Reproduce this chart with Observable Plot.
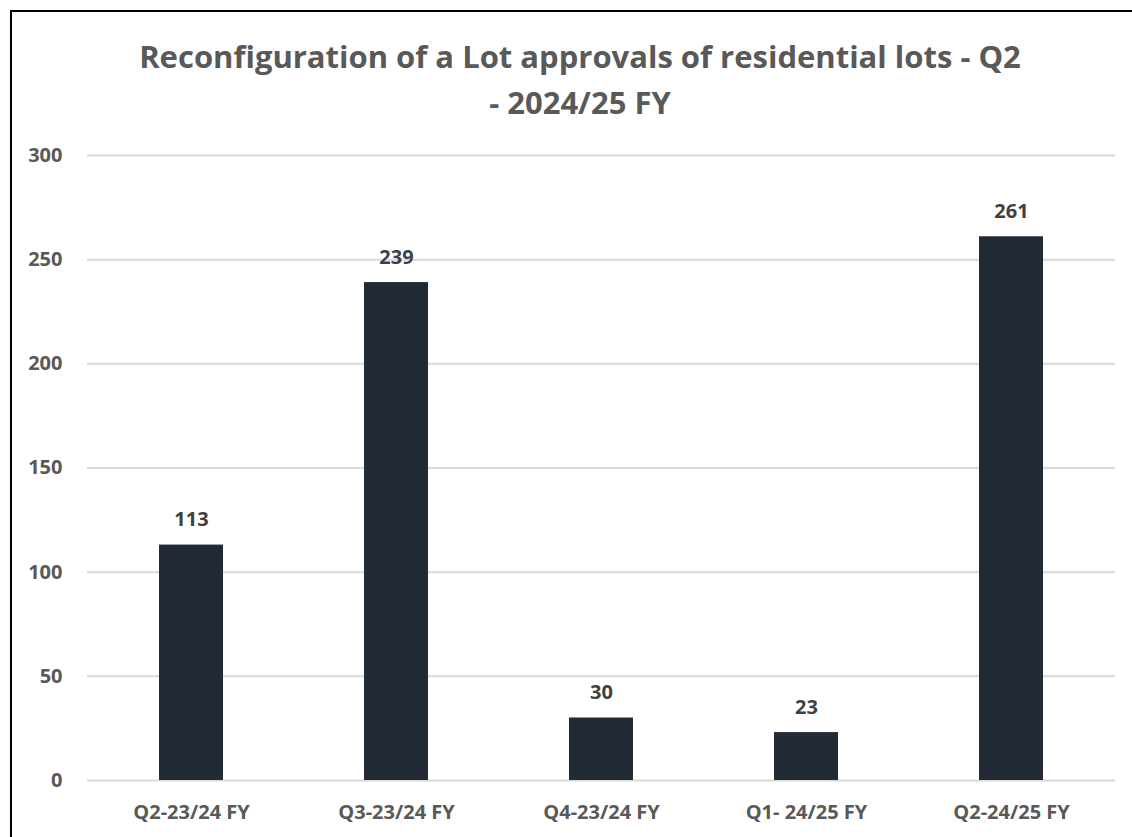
<!DOCTYPE html>
<html>
<head>
<meta charset="utf-8">
<script src="https://cdn.jsdelivr.net/npm/d3@7"></script>
<script src="https://cdn.jsdelivr.net/npm/@observablehq/plot@0.6"></script>
<style>
  html, body { margin: 0; padding: 0; background: #fff; overflow: hidden; width: 1132px; height: 837px; }
  #frame { position: absolute; left: 10px; top: 10px; width: 1200px; height: 900px; border: 2px solid #000; box-sizing: border-box; }
  #title { position: absolute; left: 80px; width: 1000px; top: 33px; text-align: center;
           font-family: "Open Sans", Lato, sans-serif; font-weight: 700; font-size: 31px; line-height: 46px; color: #595959; }
  #chart { position: absolute; left: 0; top: 0; }
</style>
</head>
<body>
<div id="frame"></div>
<div id="chart"></div>
<div id="title">Reconfiguration of a Lot approvals of residential lots - Q2<br>- 2024/25 FY</div>
<script>
const categories = ["Q2-23/24 FY", "Q3-23/24 FY", "Q4-23/24 FY", "Q1- 24/25 FY", "Q2-24/25 FY"];
const values = [113, 239, 30, 23, 261];
const yTicks = [0, 50, 100, 150, 200, 250, 300];

const data = categories.map((c, i) => ({category: c, value: values[i]}));

const chart = Plot.plot({
  width: 1132,
  height: 837,
  marginTop: 155,
  marginBottom: 57,
  marginLeft: 87,
  marginRight: 17,
  style: { fontFamily: "'Open Sans', Lato, sans-serif", fontSize: "20px", fontWeight: 700, color: "#595959", background: "transparent" },
  x: { domain: categories, paddingInner: 0.69, paddingOuter: 0.345, label: null, tickSize: 0, tickPadding: 24 },
  y: { domain: [0, 300], ticks: yTicks, label: null, tickSize: 0, tickPadding: 25 },
  marks: [
    Plot.gridY(yTicks, { stroke: "#d9d9d9", strokeOpacity: 1, strokeWidth: 2 }),
    Plot.barY(data, { x: "category", y: "value", fill: "#222a35" }),
    Plot.text(data, { x: "category", y: "value", text: d => String(d.value), dy: -25, fill: "#404040", fontSize: 20, fontWeight: 700 })
  ]
});
document.getElementById("chart").appendChild(chart);
</script>
</body>
</html>
